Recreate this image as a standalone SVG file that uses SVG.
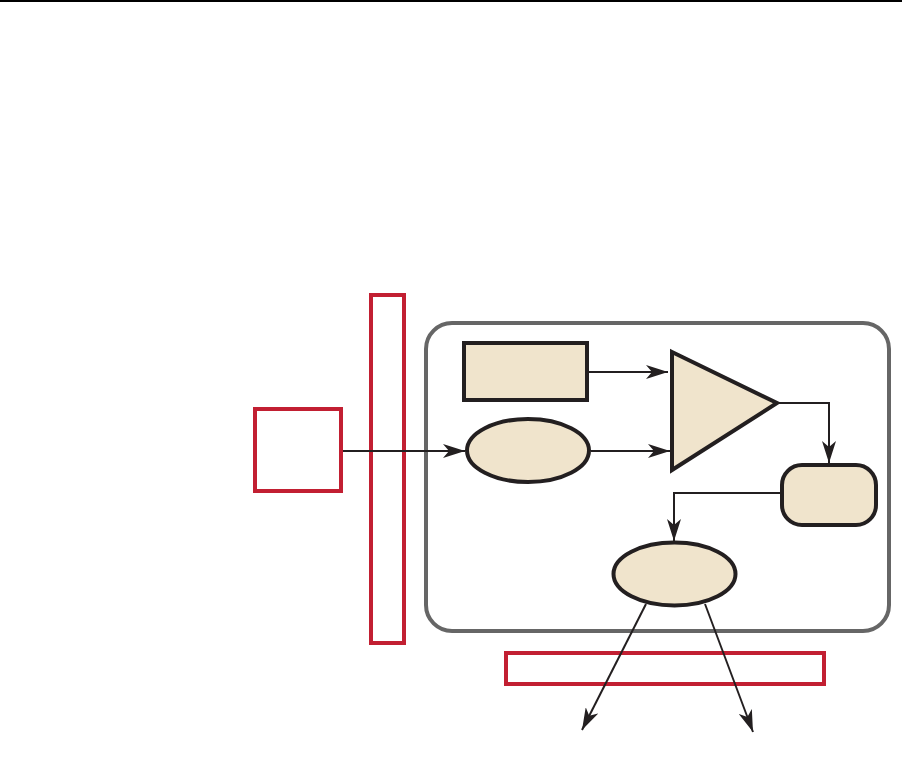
<svg xmlns="http://www.w3.org/2000/svg" width="902" height="766" viewBox="0 0 902 766">
<style>
.red{fill:none;stroke:#c21f32;stroke-width:4}
.node{fill:#f0e4cc;stroke:#231f20;stroke-width:4}
.conn{fill:none;stroke:#231f20;stroke-width:2}
</style>
<defs>
<marker id="ah" markerUnits="userSpaceOnUse" markerWidth="24" markerHeight="14" refX="22" refY="7" orient="auto">
<path d="M0,0 L22,7 L0,14 L6,7 Z" fill="#231f20"/>
</marker>
</defs>
<rect x="0" y="0" width="902" height="2" fill="#000"/>
<g id="container"><rect x="426" y="323" width="463" height="308" rx="26" fill="none" stroke="#666" stroke-width="4"/></g>
<g id="red-square"><rect class="red" x="255" y="409" width="86" height="82"/></g>
<g id="red-bar"><rect class="red" x="371" y="295" width="33" height="348"/></g>
<g id="red-strip"><rect class="red" x="506" y="653" width="318" height="31"/></g>
<g id="connectors">
<line class="conn" x1="343" y1="451" x2="465" y2="451" marker-end="url(#ah)"/>
<line class="conn" x1="589" y1="372" x2="668" y2="372" marker-end="url(#ah)"/>
<line class="conn" x1="591" y1="451" x2="670" y2="451" marker-end="url(#ah)"/>
<polyline class="conn" points="779,403 829,403 829,463" marker-end="url(#ah)"/>
<polyline class="conn" points="780,493 674,493 674,541" marker-end="url(#ah)"/>
<line class="conn" x1="646" y1="604" x2="582" y2="730" marker-end="url(#ah)"/>
<line class="conn" x1="705" y1="604" x2="753" y2="732" marker-end="url(#ah)"/>
</g>
<g id="rect-node"><rect class="node" x="464" y="343" width="123" height="57"/></g>
<g id="ellipse1"><ellipse class="node" cx="528" cy="450.5" rx="61" ry="31.5"/></g>
<g id="triangle"><polygon class="node" points="672,352 777,403 672,470"/></g>
<g id="rounded-node"><rect class="node" x="782" y="465" width="94" height="60" rx="20"/></g>
<g id="ellipse2"><ellipse class="node" cx="674.5" cy="574" rx="61" ry="31.5"/></g>
</svg>
